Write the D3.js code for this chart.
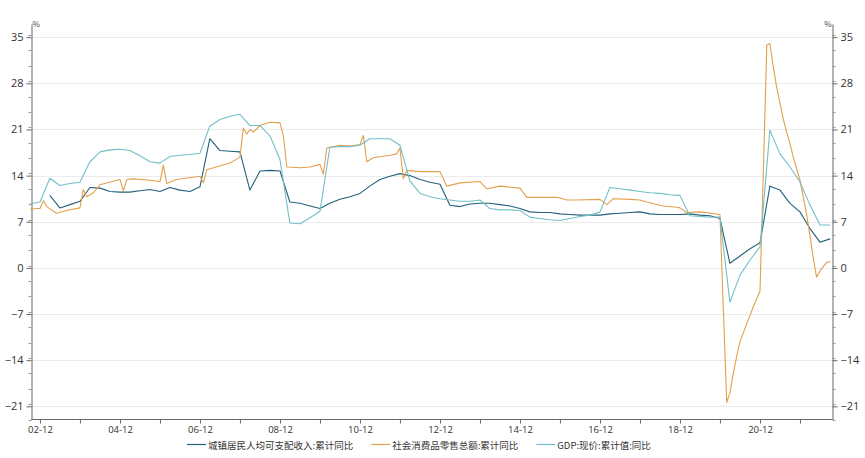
<!DOCTYPE html>
<html>
<head>
<meta charset="utf-8">
<script src="https://cdn.jsdelivr.net/npm/d3@7/dist/d3.min.js"></script>
<style>
  html, body { margin: 0; padding: 0; background: #fff; }
  svg { display: block; }
  text { font-family: "Noto Sans CJK SC", "Noto Sans", sans-serif; }
</style>
</head>
<body>
<svg id="chart" width="865" height="458"></svg>
<script>
// ---- data ----
const seriesNames = ["城镇居民人均可支配收入:累计同比", "社会消费品零售总额:累计同比", "GDP:现价:累计值:同比"];
const seriesColors = ["#23607a", "#e3a04c", "#72bfca"];

const xTickLabels = ["02-12","04-12","06-12","08-12","10-12","12-12","14-12","16-12","18-12","20-12"];
const yTickValues = [-21, -14, -7, 0, 7, 14, 21, 28, 35];

const income = [
  ["2003-03",11.0],["2003-06",9.1],["2003-09",9.6],["2003-12",10.1],
  ["2004-03",12.2],["2004-06",12.1],["2004-09",11.6],["2004-12",11.5],
  ["2005-03",11.5],["2005-06",11.7],["2005-09",11.9],["2005-12",11.6],
  ["2006-03",12.2],["2006-06",11.8],["2006-09",11.6],["2006-12",12.3],
  ["2007-03",19.6],["2007-06",17.8],["2007-09",17.7],["2007-12",17.6],
  ["2008-03",11.8],["2008-06",14.7],["2008-09",14.8],["2008-12",14.7],
  ["2009-03",10.0],["2009-06",9.8],["2009-09",9.4],["2009-12",9.0],
  ["2010-03",9.8],["2010-06",10.4],["2010-09",10.8],["2010-12",11.3],
  ["2011-03",12.4],["2011-06",13.4],["2011-09",13.9],["2011-12",14.3],
  ["2012-03",14.0],["2012-06",13.4],["2012-09",13.0],["2012-12",12.7],
  ["2013-03",9.5],["2013-06",9.3],["2013-09",9.7],["2013-12",9.8],
  ["2014-03",9.8],["2014-06",9.6],["2014-09",9.4],["2014-12",9.0],
  ["2015-03",8.5],["2015-06",8.4],["2015-09",8.4],["2015-12",8.2],
  ["2016-03",8.1],["2016-06",8.0],["2016-09",8.0],["2016-12",8.0],
  ["2017-03",8.2],["2017-06",8.3],["2017-09",8.4],["2017-12",8.5],
  ["2018-03",8.2],["2018-06",8.1],["2018-09",8.1],["2018-12",8.1],
  ["2019-03",8.2],["2019-06",8.0],["2019-09",7.9],["2019-12",7.5],
  ["2020-03",0.7],["2020-06",1.8],["2020-09",2.9],["2020-12",3.8],
  ["2021-03",12.4],["2021-06",11.8],["2021-09",9.8],["2021-12",8.5],
  ["2022-03",6.0],["2022-06",3.9],["2022-09",4.4]
];

const retail = [
  ["2002-09",8.9],["2002-11",9.0],["2002-12",9.0],["2003-01",10.2],["2003-02",9.3],
  ["2003-05",8.3],["2003-08",8.7],["2003-12",9.1],["2004-01",11.9],["2004-02",10.8],
  ["2004-04",11.4],["2004-06",12.6],["2004-11",13.3],["2004-12",13.4],["2005-01",11.7],
  ["2005-02",13.4],["2005-04",13.5],["2005-09",13.3],["2005-12",13.1],["2006-01",15.6],
  ["2006-02",12.8],["2006-05",13.4],["2006-12",13.9],["2007-01",12.9],["2007-02",14.9],
  ["2007-09",15.9],["2007-12",16.8],["2008-01",21.2],["2008-02",20.3],["2008-03",21.0],
  ["2008-04",20.6],["2008-06",21.6],["2008-09",22.1],["2008-12",22.0],["2009-01",20.0],
  ["2009-02",15.3],["2009-06",15.2],["2009-09",15.3],["2009-12",15.7],["2010-01",14.2],
  ["2010-02",18.2],["2010-06",18.6],["2010-09",18.5],["2010-12",18.7],["2011-01",20.1],
  ["2011-02",16.1],["2011-04",16.7],["2011-09",17.1],["2011-11",17.3],["2011-12",18.2],
  ["2012-01",13.5],["2012-02",14.8],["2012-06",14.6],["2012-12",14.6],["2013-02",12.4],
  ["2013-06",12.9],["2013-12",13.1],["2014-02",12.0],["2014-06",12.4],["2014-10",12.2],
  ["2014-12",12.1],["2015-02",10.7],["2015-11",10.7],["2015-12",10.6],["2016-02",10.3],
  ["2016-05",10.3],["2016-12",10.4],["2017-02",9.6],["2017-04",10.5],["2017-09",10.4],
  ["2017-12",10.3],["2018-02",10.0],["2018-07",9.4],["2018-11",9.2],["2018-12",9.1],
  ["2019-02",8.4],["2019-06",8.5],["2019-12",8.1],["2020-02",-20.4],["2020-03",-19.0],
  ["2020-04",-16.0],["2020-05",-13.5],["2020-06",-11.2],["2020-07",-9.9],["2020-08",-8.5],
  ["2020-09",-7.2],["2020-10",-5.9],["2020-11",-4.7],["2020-12",-3.5],["2021-02",33.8],
  ["2021-03",34.0],["2021-04",30.5],["2021-05",27.5],["2021-06",25.0],["2021-07",22.6],
  ["2021-08",20.6],["2021-09",18.8],["2021-10",16.8],["2021-11",15.0],["2021-12",13.3],
  ["2022-02",8.0],["2022-03",5.0],["2022-04",1.5],["2022-05",-1.4],["2022-06",-0.5],
  ["2022-07",0.2],["2022-08",0.8],["2022-09",1.0]
];

const gdp = [
  ["2002-09",9.7],["2002-12",10.0],["2003-03",13.6],["2003-06",12.5],["2003-09",12.8],["2003-12",13.0],
  ["2004-03",16.1],["2004-06",17.6],["2004-09",17.9],["2004-12",18.0],
  ["2005-03",17.8],["2005-06",17.0],["2005-09",16.1],["2005-12",15.9],
  ["2006-03",16.9],["2006-06",17.1],["2006-09",17.2],["2006-12",17.4],
  ["2007-03",21.5],["2007-06",22.5],["2007-09",23.0],["2007-12",23.3],
  ["2008-03",21.6],["2008-06",21.6],["2008-09",20.0],["2008-12",16.4],
  ["2009-03",6.8],["2009-06",6.7],["2009-09",7.6],["2009-12",8.6],
  ["2010-03",18.3],["2010-06",18.4],["2010-09",18.4],["2010-12",18.6],
  ["2011-03",19.6],["2011-06",19.6],["2011-09",19.6],["2011-12",18.6],
  ["2012-03",13.2],["2012-06",11.3],["2012-09",10.8],["2012-12",10.5],
  ["2013-03",10.3],["2013-06",10.1],["2013-09",10.1],["2013-12",10.3],
  ["2014-03",9.0],["2014-06",8.8],["2014-09",8.8],["2014-12",8.7],
  ["2015-03",7.7],["2015-06",7.5],["2015-09",7.3],["2015-12",7.2],
  ["2016-03",7.5],["2016-06",7.8],["2016-09",8.0],["2016-12",8.5],
  ["2017-03",12.2],["2017-06",12.0],["2017-09",11.8],["2017-12",11.6],
  ["2018-03",11.4],["2018-06",11.3],["2018-09",11.1],["2018-12",11.0],
  ["2019-03",7.9],["2019-06",7.8],["2019-09",7.7],["2019-12",7.7],
  ["2020-03",-5.2],["2020-06",-1.1],["2020-09",1.2],["2020-12",3.2],
  ["2021-03",20.9],["2021-06",17.3],["2021-09",15.3],["2021-12",13.0],
  ["2022-03",9.6],["2022-06",6.5],["2022-09",6.5]
];

// ---- layout ----
const plotLeft = 31.5, plotRight = 832.5, plotTop = 24, plotBottom = 419.5;

const parseMonth = d3.timeParse("%Y-%m");
const svg = d3.select("#chart");

const x = d3.scaleTime()
  .domain([parseMonth("2002-09"), parseMonth("2022-09")])
  .range([30, 830]);
const y = d3.scaleLinear().domain([-23, 37]).range([plotBottom, plotTop]);

// gridlines
svg.append("g").selectAll("line").data(yTickValues).join("line")
  .attr("x1", plotLeft).attr("x2", plotRight)
  .attr("y1", d => Math.round(y(d)) + 0.5).attr("y2", d => Math.round(y(d)) + 0.5)
  .attr("stroke", "#ebebeb").attr("stroke-width", 1);

// minor tick values (three steps between labelled ticks)
const minorVals = d3.range(-23, 37.01, 7 / 3).map(v => +v.toFixed(4))
  .filter(v => !yTickValues.some(t => Math.abs(t - v) < 0.01));

// left / right axes
const leftAxis = d3.axisLeft(y).tickValues(yTickValues).tickSize(5).tickPadding(3).tickSizeOuter(0);
const gL = svg.append("g").attr("transform", `translate(${plotLeft},0)`).call(leftAxis);
const rightAxis = d3.axisRight(y).tickValues(yTickValues).tickSize(5).tickPadding(3).tickSizeOuter(0);
const gR = svg.append("g").attr("transform", `translate(${plotRight},0)`).call(rightAxis);
[gL, gR].forEach(g => {
  g.select(".domain").attr("stroke", "#666");
  g.selectAll(".tick line").attr("stroke", "#666");
  g.selectAll(".tick text").style("font-size", "11px").style("fill", "#333")
    .style("font-family", "'Open Sans', 'Noto Sans', sans-serif");
});
svg.append("g").selectAll("line").data(minorVals).join("line")
  .attr("x1", plotLeft - 3).attr("x2", plotLeft)
  .attr("y1", d => Math.round(y(d)) + 0.5).attr("y2", d => Math.round(y(d)) + 0.5)
  .attr("stroke", "#999");
svg.append("g").selectAll("line").data(minorVals).join("line")
  .attr("x1", plotRight).attr("x2", plotRight + 3)
  .attr("y1", d => Math.round(y(d)) + 0.5).attr("y2", d => Math.round(y(d)) + 0.5)
  .attr("stroke", "#999");

// % unit labels
svg.append("text").attr("x", plotLeft + 1).attr("y", 27).text("%")
  .style("font-size", "8px").style("fill", "#444");
svg.append("text").attr("x", plotRight - 1).attr("y", 27).attr("text-anchor", "end").text("%")
  .style("font-size", "8px").style("fill", "#444");

// bottom axis
const yearTicks = d3.range(2002, 2022).map(yr => parseMonth(yr + "-12"));
const labelDates = xTickLabels.map(s => parseMonth("20" + s.slice(0, 2) + "-" + s.slice(3)));
const bottomAxis = d3.axisBottom(x).tickValues(yearTicks).tickSize(4).tickPadding(3).tickSizeOuter(0)
  .tickFormat(d => {
    const i = labelDates.findIndex(l => +l === +d);
    return i >= 0 ? xTickLabels[i] : "";
  });
const gB = svg.append("g").attr("transform", `translate(0,${plotBottom})`).call(bottomAxis);
gB.select(".domain").remove();
gB.append("line").attr("x1", plotLeft).attr("x2", plotRight).attr("stroke", "#666");
gB.selectAll(".tick line").attr("stroke", "#666");
gB.selectAll(".tick text").style("font-size", "9.5px").style("fill", "#333")
  .style("font-family", "'Open Sans', 'Noto Sans', sans-serif");

// series lines
const line = d3.line().x(d => x(parseMonth(d[0]))).y(d => y(d[1]));
const allSeries = [income, retail, gdp];
svg.append("g").selectAll("path").data(allSeries).join("path")
  .attr("d", d => line(d))
  .attr("fill", "none")
  .attr("stroke", (d, i) => seriesColors[i])
  .attr("stroke-width", 1.1)
  .attr("stroke-linejoin", "round");

// legend
const legend = svg.append("g").attr("transform", "translate(0,449)");
let cx = 187;
seriesNames.forEach((name, i) => {
  legend.append("line").attr("x1", cx).attr("x2", cx + 19).attr("y1", -4.5).attr("y2", -4.5)
    .attr("stroke", seriesColors[i]).attr("stroke-width", 1.2);
  const t = legend.append("text").attr("x", cx + 21).attr("y", 0).text(name)
    .style("font-size", "9.5px").style("fill", "#333");
  cx += 21 + t.node().getComputedTextLength() + 18;
});
</script>
</body>
</html>
